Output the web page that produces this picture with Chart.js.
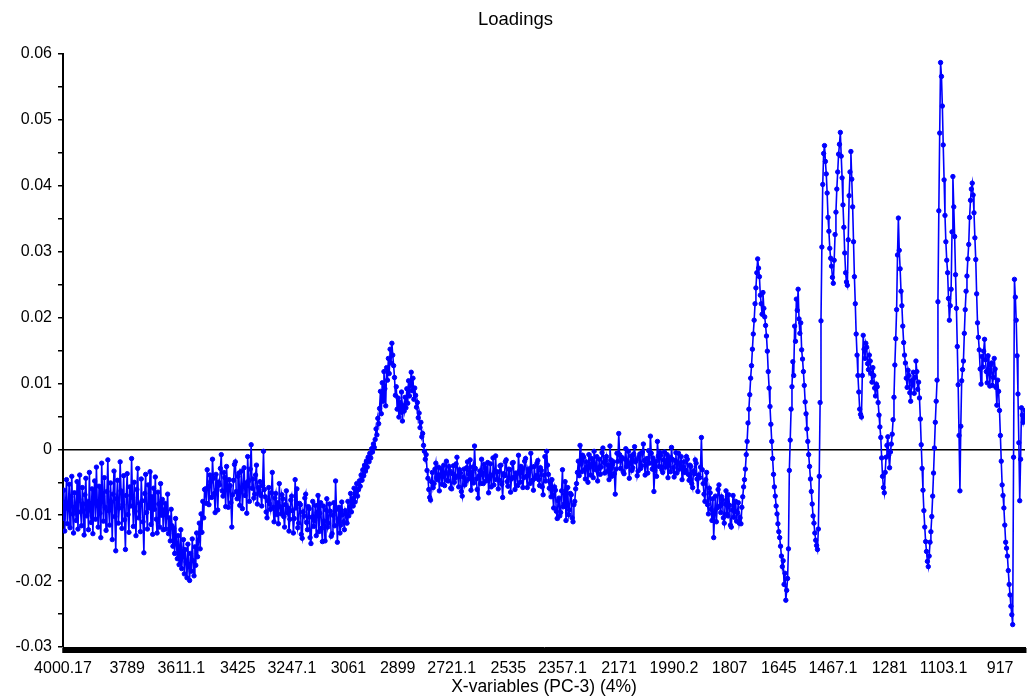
<!DOCTYPE html>
<html>
<head>
<meta charset="utf-8">
<title>Loadings</title>
<script src="https://cdn.jsdelivr.net/npm/chart.js@4/dist/chart.umd.min.js"></script>
<style>
  html, body { margin: 0; padding: 0; background: #ffffff; }
  #wrap { width: 1031px; height: 698px; }
</style>
</head>
<body>
<div id="wrap"><canvas id="chart" width="1031" height="698"></canvas></div>
<script>
// Spectral grid: first variable and spacing in cm-1 (descending)
const firstWavenumber = 4000.17;
const wavenumberStep = 2.893;

// PC-3 loadings, in variable order, split by spectral region
const band4000 = [
  -0.0105, -0.0062, -0.0124, -0.0081, -0.0046, -0.0113, -0.0090, -0.0053, -0.0119, -0.0072,
  -0.0041, -0.0098, -0.0127, -0.0066, -0.0087, -0.0108, -0.0049, -0.0121, -0.0076, -0.0039,
  -0.0095, -0.0116, -0.0058, -0.0083, -0.0130, -0.0069, -0.0044, -0.0101, -0.0079, -0.0122,
  -0.0035, -0.0092, -0.0111, -0.0060, -0.0128, -0.0074, -0.0048, -0.0106, -0.0027, -0.0085,
  -0.0118, -0.0056, -0.0097, -0.0134, -0.0021, -0.0071, -0.0109, -0.0043, -0.0088, -0.0123,
  -0.0064, -0.0016, -0.0093, -0.0115, -0.0051, -0.0080, -0.0137, -0.0068, -0.0033, -0.0102,
  -0.0154, -0.0075, -0.0047, -0.0112, -0.0089, -0.0019, -0.0063, -0.0120, -0.0084, -0.0040,
  -0.0107, -0.0152, -0.0070, -0.0037, -0.0099, -0.0126, -0.0057, -0.0086, -0.0014, -0.0073,
  -0.0117, -0.0050, -0.0094, -0.0131, -0.0061, -0.0029, -0.0104, -0.0082, -0.0125, -0.0045,
  -0.0078, -0.0110, -0.0157, -0.0067, -0.0038, -0.0096, -0.0121, -0.0054, -0.0089, -0.0034,
  -0.0114, -0.0072, -0.0129, -0.0059, -0.0091, -0.0042, -0.0106, -0.0127, -0.0065, -0.0083,
  -0.0118, -0.0052, -0.0100, -0.0076, -0.0122, -0.0092
];
const dip3600 = [
  -0.0082, -0.0121, -0.0095, -0.0068, -0.0128, -0.0104, -0.0139, -0.0091, -0.0116, -0.0147,
  -0.0120, -0.0158, -0.0105, -0.0143, -0.0166, -0.0131, -0.0175, -0.0149, -0.0122, -0.0181,
  -0.0160, -0.0137, -0.0189, -0.0152, -0.0171, -0.0195, -0.0144, -0.0178, -0.0199, -0.0158,
  -0.0185, -0.0136, -0.0169, -0.0192, -0.0148, -0.0176, -0.0127, -0.0163, -0.0138, -0.0112,
  -0.0151, -0.0098, -0.0126, -0.0079, -0.0104, -0.0061
];
const band3400 = [
  -0.0060, -0.0082, -0.0031, -0.0057, -0.0084, -0.0039, -0.0049, -0.0073, -0.0015, -0.0044,
  -0.0067, -0.0096, -0.0038, -0.0061, -0.0092, -0.0050, -0.0054, -0.0029, -0.0008, -0.0063,
  -0.0071, -0.0035, -0.0043, -0.0087, -0.0026, -0.0058, -0.0088, -0.0046, -0.0055, -0.0081,
  -0.0118, -0.0069, -0.0047, -0.0023, -0.0019, -0.0064, -0.0075, -0.0041, -0.0036, -0.0085,
  -0.0062, -0.0033, -0.0090, -0.0056, -0.0028, -0.0070, -0.0051, -0.0097, -0.0011, -0.0048,
  -0.0079, -0.0030, 0.0007, -0.0059, -0.0045, -0.0074, -0.0068, -0.0039, -0.0024, -0.0083,
  -0.0058, -0.0066
];
const band3200 = [
  -0.0049, -0.0070, -0.0086, -0.0055, -0.0003, -0.0061, -0.0072, -0.0095, -0.0104, -0.0078,
  -0.0058, -0.0083, -0.0091, -0.0066, -0.0035, -0.0088, -0.0110, -0.0074, -0.0067, -0.0099,
  -0.0081, -0.0113, -0.0052, -0.0087, -0.0098, -0.0069, -0.0075, -0.0102, -0.0118, -0.0084,
  -0.0063, -0.0096, -0.0089, -0.0124, -0.0106, -0.0077, -0.0071, -0.0093, -0.0127, -0.0105,
  -0.0046, -0.0089, -0.0060, -0.0119, -0.0112, -0.0082, -0.0084, -0.0129, -0.0135, -0.0095,
  -0.0101, -0.0074, -0.0068, -0.0111, -0.0122, -0.0087, -0.0090, -0.0134, -0.0143, -0.0103,
  -0.0079, -0.0117, -0.0108, -0.0085, -0.0131, -0.0096, -0.0070, -0.0125, -0.0097, -0.0081,
  -0.0120, -0.0140, -0.0086, -0.0109, -0.0139, -0.0092, -0.0075, -0.0118, -0.0112, -0.0083,
  -0.0094, -0.0132, -0.0128, -0.0100, -0.0081, -0.0116, -0.0048, -0.0091, -0.0141, -0.0106,
  -0.0088, -0.0127, -0.0115, -0.0080, -0.0099, -0.0110, -0.0122, -0.0093
];
const peak2900 = [
  -0.0098, -0.0112, -0.0079, -0.0101, -0.0088, -0.0067, -0.0095, -0.0074, -0.0086, -0.0059,
  -0.0080, -0.0066, -0.0052, -0.0071, -0.0061, -0.0048, -0.0056, -0.0039, -0.0047, -0.0031,
  -0.0040, -0.0024, -0.0033, -0.0018, -0.0027, -0.0012, -0.0019, -0.0006, -0.0013, 0.0001,
  -0.0004, 0.0008, 0.0003, 0.0015, 0.0031, 0.0022, 0.0047, 0.0039, 0.0062, 0.0088,
  0.0054, 0.0101, 0.0073, 0.0118, 0.0092, 0.0066, 0.0124, 0.0105, 0.0138, 0.0115,
  0.0152, 0.0131, 0.0161, 0.0143, 0.0127, 0.0109, 0.0082, 0.0095, 0.0061, 0.0078,
  0.0049, 0.0071, 0.0056, 0.0087, 0.0043, 0.0066, 0.0058, 0.0079, 0.0063, 0.0092,
  0.0070, 0.0104, 0.0081, 0.0097, 0.0117, 0.0089, 0.0108, 0.0076, 0.0093, 0.0082,
  0.0064, 0.0071, 0.0048, 0.0055, 0.0033, 0.0041, 0.0019, 0.0024, 0.0006, -0.0003,
  -0.0015, -0.0008, -0.0032, -0.0044, -0.0061, -0.0073
];
const band2600 = [
  -0.0077, -0.0049, -0.0035, -0.0058, -0.0052, -0.0030, -0.0021, -0.0043, -0.0046, -0.0027,
  -0.0063, -0.0039, -0.0029, -0.0053, -0.0041, -0.0024, -0.0055, -0.0036, -0.0018, -0.0047,
  -0.0048, -0.0026, -0.0033, -0.0059, -0.0060, -0.0037, -0.0025, -0.0050, -0.0044, -0.0022,
  -0.0012, -0.0040, -0.0057, -0.0031, -0.0036, -0.0064, -0.0071, -0.0042, -0.0030, -0.0054,
  -0.0049, -0.0028, -0.0019, -0.0045, -0.0038, -0.0016, -0.0062, -0.0035, -0.0027, -0.0051,
  0.0005, -0.0029, -0.0045, -0.0061, -0.0074, -0.0040, -0.0033, -0.0052, -0.0015, -0.0038,
  -0.0052, -0.0023, -0.0028, -0.0048, -0.0041, -0.0020, -0.0066, -0.0044, -0.0022, -0.0057,
  -0.0039, -0.0013, -0.0054, -0.0034, -0.0010, -0.0046, -0.0034, -0.0060, -0.0047, -0.0025,
  -0.0024, -0.0053, -0.0073, -0.0037, -0.0040, -0.0019, -0.0016, -0.0049, -0.0056, -0.0030,
  -0.0031, -0.0065, -0.0045, -0.0021, -0.0020, -0.0042, -0.0061, -0.0036, -0.0037, -0.0055,
  -0.0009, -0.0033, -0.0050, -0.0026, -0.0029, -0.0058, -0.0043, -0.0018, -0.0014, -0.0041,
  -0.0058, -0.0030, -0.0035, -0.0052, -0.0006, -0.0027, -0.0047, -0.0062, -0.0026, -0.0044,
  -0.0040, -0.0021, -0.0017, -0.0046, -0.0055, -0.0028, -0.0032, -0.0057, -0.0069, -0.0039,
  -0.0011, -0.0048, -0.0003, -0.0024, -0.0038, -0.0059, -0.0050, -0.0072
];
const dip2350 = [
  -0.0046, -0.0071, -0.0089, -0.0057, -0.0062, -0.0094, -0.0105, -0.0078, -0.0074, -0.0101,
  -0.0096, -0.0063, -0.0031, -0.0087, -0.0083, -0.0049, -0.0108, -0.0085, -0.0058, -0.0099,
  -0.0092, -0.0067, -0.0069, -0.0104, -0.0110, -0.0084, -0.0079, -0.0060, -0.0052, -0.0035
];
const band2100 = [
  -0.0018, -0.0040, 0.0006, -0.0022, -0.0034, -0.0009, -0.0012, -0.0031, -0.0045, -0.0019,
  -0.0026, -0.0050, -0.0008, -0.0027, -0.0039, -0.0014, -0.0021, -0.0043, -0.0003, -0.0025,
  -0.0031, -0.0011, -0.0048, -0.0029, -0.0015, -0.0038, -0.0027, -0.0005, 0.0002, -0.0020,
  -0.0036, -0.0017, -0.0011, -0.0033, -0.0024, -0.0046, 0.0005, -0.0016, -0.0041, -0.0023,
  -0.0019, -0.0037, -0.0068, -0.0030, -0.0006, -0.0018, 0.0024, -0.0008, -0.0029, -0.0012,
  -0.0013, -0.0034, -0.0037, -0.0015, 0.0001, -0.0026, -0.0022, -0.0003, -0.0044, -0.0021,
  -0.0010, -0.0032, -0.0028, -0.0007, 0.0004, -0.0019, -0.0016, -0.0040, -0.0033, -0.0011,
  -0.0007, -0.0029, -0.0025, -0.0004, 0.0008, -0.0017, -0.0039, -0.0023, -0.0014, -0.0036,
  -0.0002, -0.0021, 0.0020, -0.0006, -0.0030, -0.0013, -0.0064, -0.0032, -0.0018, -0.0041,
  0.0012, -0.0010, -0.0026, -0.0005, -0.0009, -0.0031, -0.0035, -0.0016, -0.0004, -0.0027,
  -0.0021, -0.0008, -0.0043, -0.0024, -0.0012, -0.0034, 0.0003, -0.0015, -0.0028, -0.0042,
  -0.0017, -0.0005, -0.0036, -0.0020, -0.0006, -0.0030, -0.0024, -0.0011, -0.0046, -0.0027,
  -0.0019, -0.0035
];
const slope1850 = [
  -0.0032, -0.0011, -0.0015, -0.0038, -0.0047, -0.0024, -0.0026, -0.0052, -0.0058, -0.0033,
  -0.0037, -0.0016, -0.0021, -0.0045, -0.0064, -0.0039, -0.0043, -0.0027, 0.0018, -0.0031,
  -0.0052, -0.0068, -0.0079, -0.0046, -0.0035, -0.0084, -0.0098, -0.0059, -0.0066, -0.0091,
  -0.0108, -0.0075, -0.0134, -0.0097, -0.0071, -0.0110, -0.0089, -0.0061, -0.0054, -0.0086,
  -0.0096, -0.0072, -0.0077, -0.0104, -0.0112, -0.0083, -0.0063, -0.0098, -0.0101, -0.0069,
  -0.0085, -0.0115, -0.0118, -0.0092, -0.0070, -0.0103, -0.0094, -0.0079, -0.0109, -0.0096,
  -0.0081, -0.0112
];
const fingerprint1700 = [
  -0.0104, -0.0113, -0.0088, -0.0072, -0.0057, -0.0046, -0.0030, -0.0008, 0.0012, 0.0040,
  0.0061, 0.0083, 0.0108, 0.0127, 0.0152, 0.0175, 0.0196, 0.0221, 0.0245, 0.0268,
  0.0289, 0.0275, 0.0262, 0.0234, 0.0221, 0.0205, 0.0238, 0.0214, 0.0201, 0.0188,
  0.0172, 0.0149, 0.0118, 0.0093, 0.0065, 0.0038, 0.0012, -0.0014, -0.0038, -0.0057,
  -0.0071, -0.0086, -0.0098, -0.0113, -0.0125, -0.0134, -0.0147, -0.0162, -0.0178, -0.0169,
  -0.0205, -0.0188, -0.0229, -0.0214, -0.0196, -0.0151, -0.0032, 0.0014, 0.0061, 0.0095,
  0.0133, 0.0112, 0.0187, 0.0164, 0.0228, 0.0211, 0.0243, 0.0198, 0.0176, 0.0192,
  0.0151, 0.0137, 0.0118, 0.0097, 0.0072, 0.0054, 0.0031, 0.0012, -0.0008, -0.0026,
  -0.0045, -0.0064, -0.0083, -0.0101, -0.0112, -0.0127, -0.0138, -0.0146, -0.0152, -0.0121,
  -0.0041, 0.0071, 0.0195, 0.0307, 0.0402, 0.0449, 0.0461, 0.0437, 0.0418, 0.0389,
  0.0352, 0.0331, 0.0305, 0.0290, 0.0278, 0.0261, 0.0252, 0.0287, 0.0326, 0.0360,
  0.0395, 0.0421, 0.0448, 0.0463, 0.0481, 0.0445, 0.0412, 0.0371, 0.0337, 0.0298,
  0.0268, 0.0254, 0.0249, 0.0318, 0.0385, 0.0421, 0.0452, 0.0410, 0.0368, 0.0315,
  0.0262, 0.0221, 0.0175, 0.0143, 0.0112, 0.0087, 0.0061, 0.0053, 0.0049, 0.0112,
  0.0173, 0.0152, 0.0138, 0.0161, 0.0155, 0.0130, 0.0121, 0.0143, 0.0134, 0.0115,
  0.0102, 0.0124, 0.0112, 0.0093, 0.0081, 0.0099
];
const fingerprint1000 = [
  0.0095, 0.0071, 0.0052, 0.0034, 0.0018, -0.0013, -0.0041, -0.0058, -0.0066, -0.0035,
  -0.0012, 0.0006, 0.0019, -0.0009, -0.0028, -0.0004, 0.0008, 0.0023, 0.0045, 0.0079,
  0.0128, 0.0168, 0.0212, 0.0295, 0.0351, 0.0302, 0.0274, 0.0240, 0.0218, 0.0187,
  0.0162, 0.0143, 0.0131, 0.0108, 0.0094, 0.0120, 0.0112, 0.0086, 0.0073, 0.0104,
  0.0098, 0.0117, 0.0085, 0.0109, 0.0134, 0.0118, 0.0091, 0.0102, 0.0078, 0.0046,
  0.0007, -0.0029, -0.0062, -0.0093, -0.0118, -0.0140, -0.0155, -0.0170, -0.0178, -0.0162,
  -0.0141, -0.0125, -0.0102, -0.0071, -0.0036, 0.0002, 0.0041, 0.0073, 0.0105, 0.0224,
  0.0362, 0.0480, 0.0587, 0.0566, 0.0521, 0.0462, 0.0409, 0.0355, 0.0315, 0.0287,
  0.0268, 0.0229, 0.0196, 0.0218, 0.0243, 0.0330, 0.0414, 0.0368, 0.0323, 0.0265,
  0.0214, 0.0156, 0.0098, 0.0021, -0.0063, 0.0035, 0.0104, 0.0121, 0.0134, 0.0176,
  0.0212, 0.0240, 0.0263, 0.0289, 0.0311, 0.0352, 0.0378, 0.0395, 0.0404, 0.0386,
  0.0359, 0.0321, 0.0288, 0.0236, 0.0192, 0.0170, 0.0151, 0.0122, 0.0099, 0.0141,
  0.0125, 0.0149, 0.0167, 0.0136, 0.0118, 0.0101, 0.0142, 0.0115, 0.0096, 0.0128,
  0.0131, 0.0097, 0.0109, 0.0138, 0.0122, 0.0094, 0.0067, 0.0105, 0.0088, 0.0059,
  0.0021, -0.0018, -0.0054, -0.0070, -0.0089, -0.0115, -0.0141, -0.0150, -0.0162, -0.0184,
  -0.0205, -0.0221, -0.0238, -0.0251, -0.0266, -0.0012, 0.0258, 0.0231, 0.0196, 0.0142,
  0.0084, 0.0010, -0.0078, -0.0015, 0.0063, 0.0052, 0.0041, 0.0048, 0.0059
];

// Labelled wavenumbers on the x axis
const tickLabels = [
  '4000.17', '3789', '3611.1', '3425', '3247.1', '3061', '2899', '2721.1', '2535',
  '2357.1', '2171', '1990.2', '1807', '1645', '1467.1', '1281', '1103.1', '917'
];

const loadings = [].concat(
  band4000, dip3600, band3400, band3200, peak2900, band2600,
  dip2350, band2100, slope1850, fingerprint1700, fingerprint1000
);
const variables = loadings.map((_, i) => +(firstWavenumber - i * wavenumberStep).toFixed(3));
const points = loadings.map((v, i) => ({ x: variables[i], y: v }));

const labelByValue = new Map(tickLabels.map(t => [parseFloat(t), t]));
const FONT = "'Liberation Sans', Arial, Helvetica, sans-serif";

new Chart(document.getElementById('chart'), {
  type: 'line',
  data: {
    datasets: [{
      label: 'PC-3',
      data: points,
      borderColor: '#0000ff',
      backgroundColor: '#0000ff',
      borderWidth: 1.6,
      pointRadius: 2.2,
      pointBorderWidth: 1,
      pointBackgroundColor: '#0000ff',
      pointBorderColor: '#0000ff',
      tension: 0
    }]
  },
  options: {
    responsive: false,
    animation: false,
    devicePixelRatio: 1,
    layout: { padding: 0 },
    plugins: {
      legend: { display: false },
      tooltip: { enabled: false },
      title: {
        display: true,
        text: 'Loadings',
        color: '#000',
        font: { family: FONT, size: 18.5, weight: 'normal' },
        padding: { top: 9, bottom: 22.8 }
      }
    },
    scales: {
      x: {
        type: 'linear',
        reverse: true,
        min: variables[variables.length - 1],
        max: firstWavenumber,
        afterFit: s => { s.height = 51; },
        afterBuildTicks: s => {
          // one tick mark per variable, plus the labelled ones
          const vals = new Set(variables);
          labelByValue.forEach((_, v) => vals.add(v));
          s.ticks = Array.from(vals).sort((a, b) => b - a).map(v => ({ value: v }));
        },
        ticks: {
          autoSkip: false,
          maxRotation: 0,
          minRotation: 0,
          padding: 6,
          color: '#000',
          font: { family: FONT, size: 16 },
          callback: v => labelByValue.get(v) ?? ''
        },
        grid: {
          drawOnChartArea: false,
          drawTicks: true,
          tickLength: 6,
          tickColor: '#000',
          tickWidth: 2
        },
        border: { display: true, color: '#000', width: 1 },
        title: {
          display: true,
          text: 'X-variables (PC-3) (4%)',
          color: '#000',
          font: { family: FONT, size: 17.5 },
          padding: { top: 2, bottom: 0 }
        }
      },
      y: {
        min: -0.03,
        max: 0.06,
        afterFit: s => { s.width = 63; },
        ticks: {
          stepSize: 0.005,
          padding: 6,
          color: '#000',
          font: { family: FONT, size: 16 },
          callback: v => (Math.round(v / 0.005) % 2 === 0 ? String(Math.round(v * 100) / 100) : '')
        },
        grid: {
          drawTicks: true,
          tickLength: 5,
          tickColor: '#000',
          tickWidth: 1.5,
          lineWidth: 1.5,
          color: c => (c.tick && Math.abs(c.tick.value) < 1e-9 ? '#000' : 'rgba(0,0,0,0)')
        },
        border: { display: true, color: '#000', width: 2 }
      }
    }
  }
});
</script>
</body>
</html>
